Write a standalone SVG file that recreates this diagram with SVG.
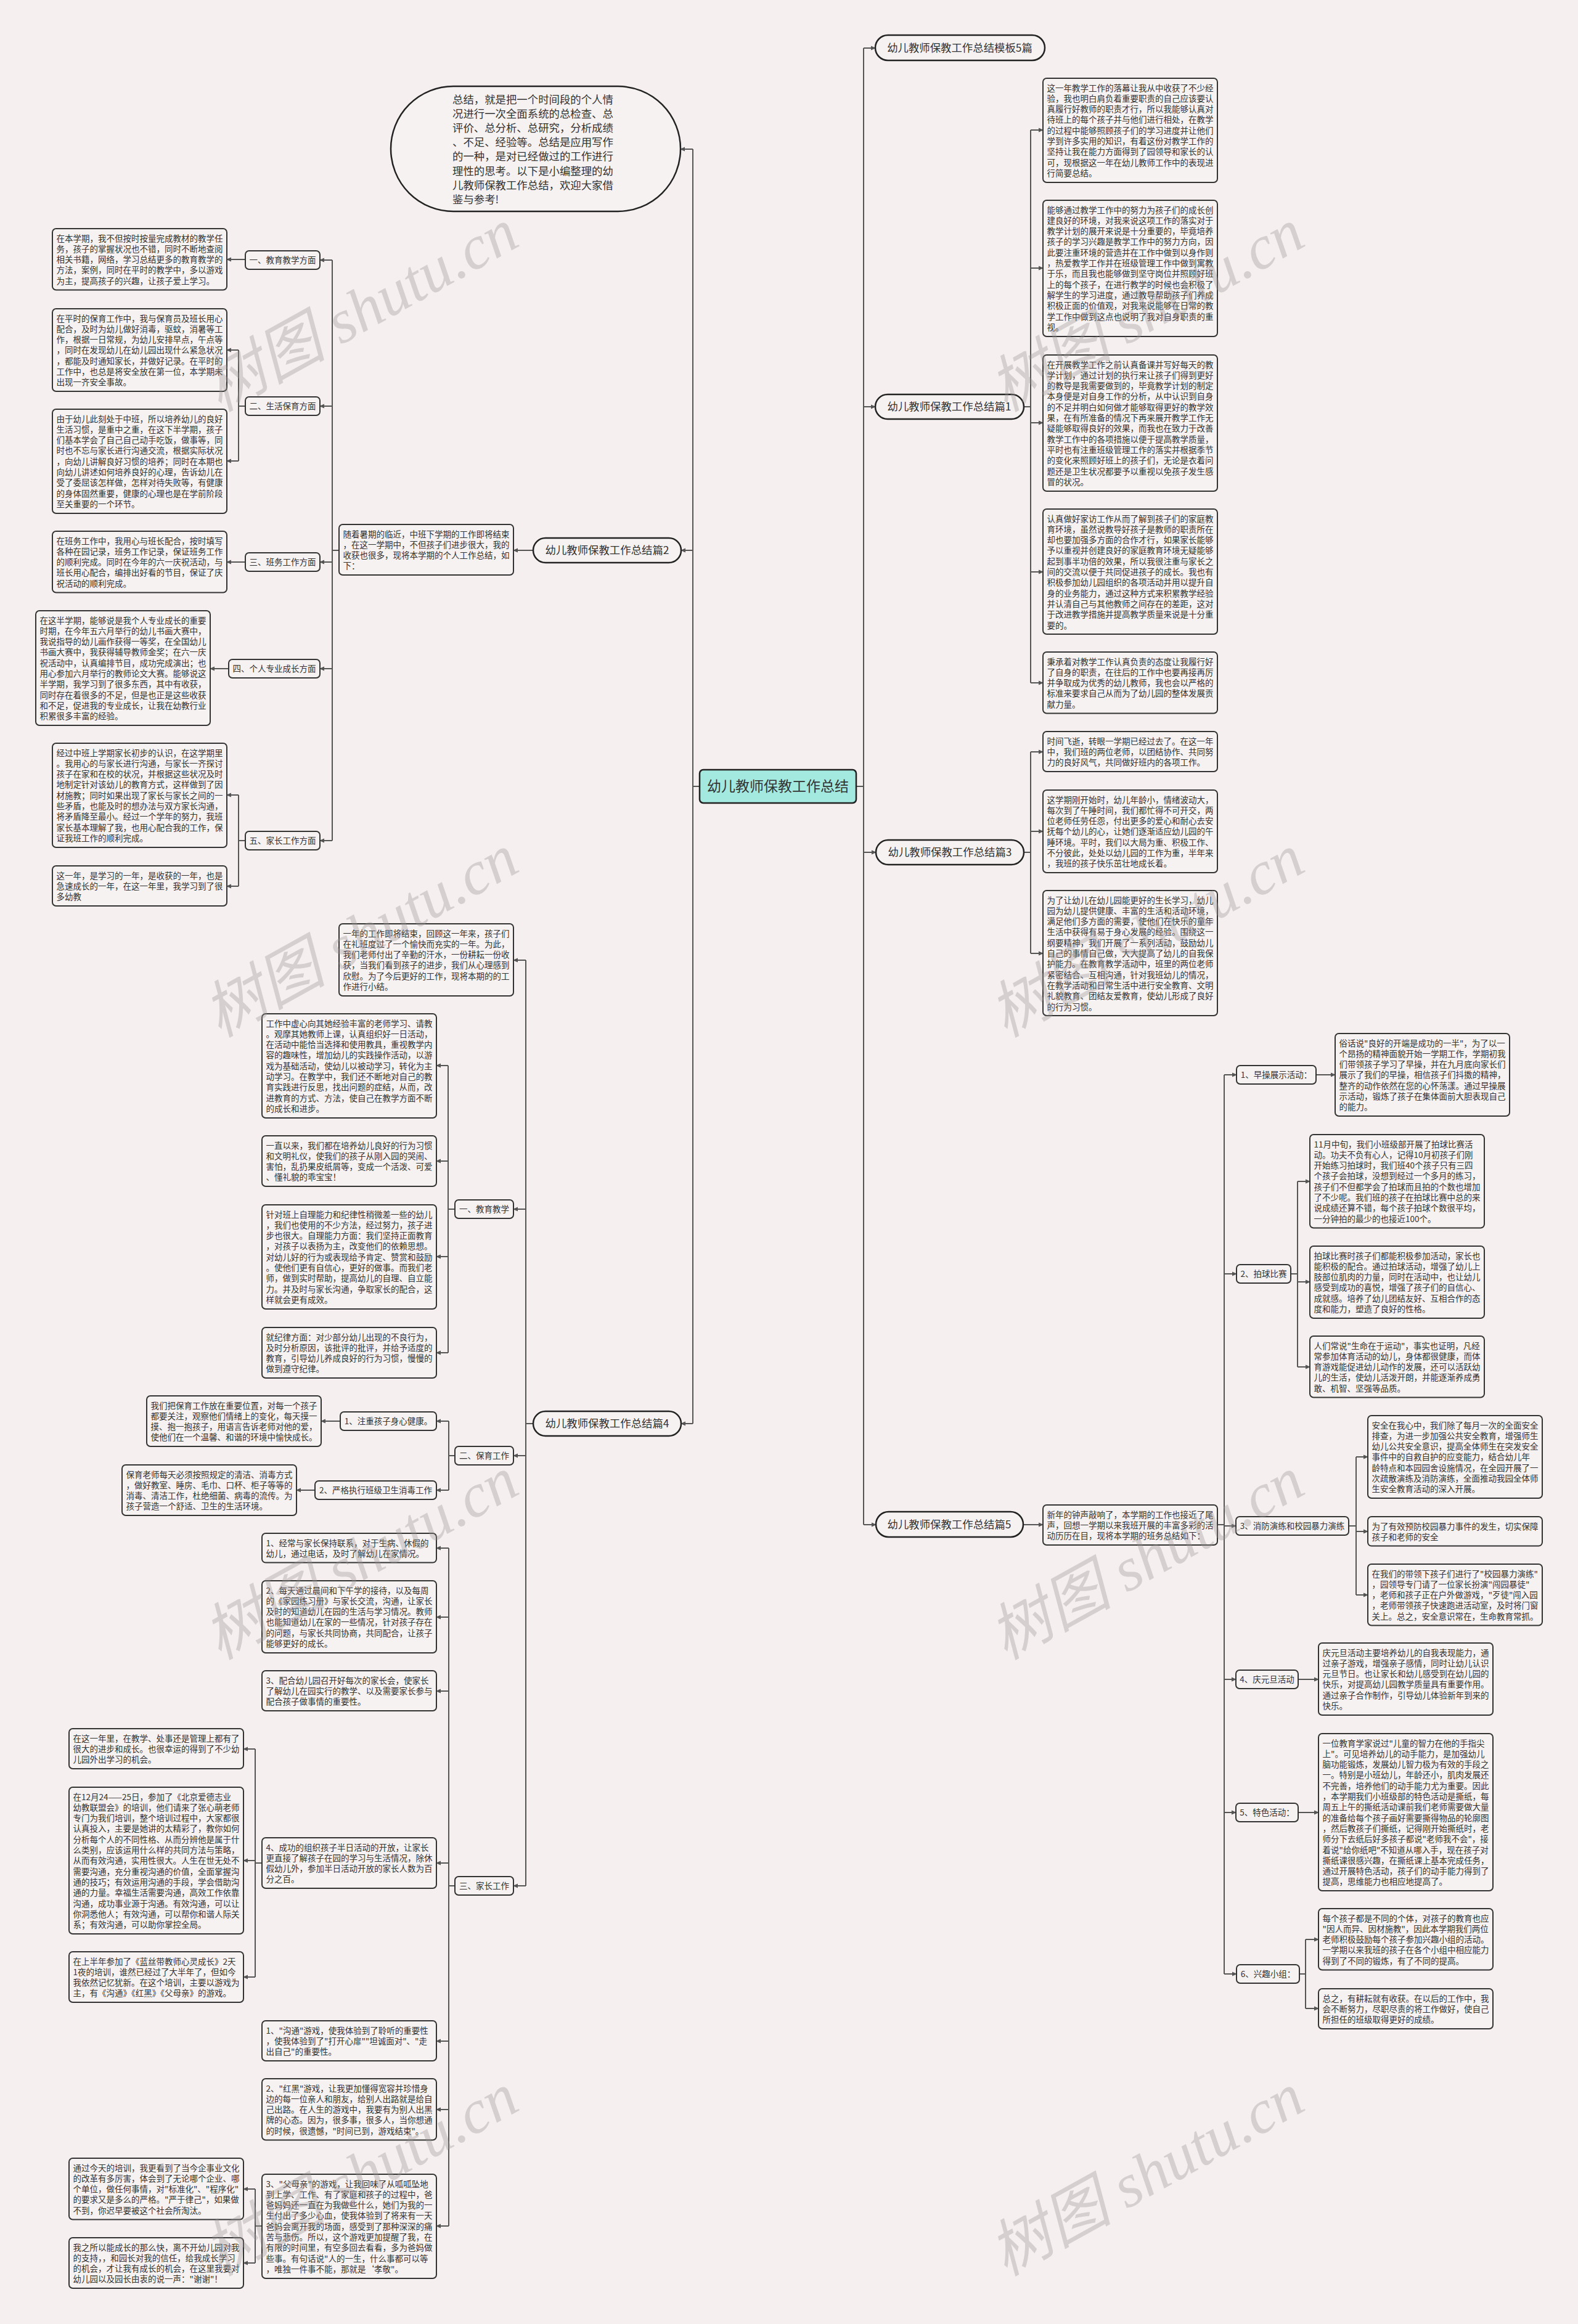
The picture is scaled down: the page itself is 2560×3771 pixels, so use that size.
<svg xmlns="http://www.w3.org/2000/svg" width="2560" height="3771" viewBox="0 0 2560 3771">
<defs>
<style>
.bg{fill:#f5efef}
.bx{fill:#f7f2f2;stroke:#333;stroke-width:2}
.nd{fill:#f7f2f2;stroke:#333;stroke-width:2}
.pn{fill:#f7f2f2;stroke:#222;stroke-width:2.5}
.t{font-family:"Noto Sans CJK SC","Noto Sans",sans-serif;font-size:13.5px;fill:#333}
.l{font-family:"Noto Sans CJK SC","Noto Sans",sans-serif;font-size:13.5px;fill:#333;text-anchor:middle}
.pt{font-family:"Noto Sans CJK SC","Noto Sans",sans-serif;font-size:17.4px;fill:#333;text-anchor:middle}
.cn{fill:none;stroke:#555;stroke-width:2}
.ar{fill:none;stroke:#555;stroke-width:2;marker-end:url(#ah)}
.wm{font-family:"Liberation Serif","Noto Sans CJK SC",serif;font-size:100px;fill:#9a9494;opacity:0.35;font-style:italic}
</style>
<marker id="ah" markerWidth="8" markerHeight="8" refX="7" refY="4" orient="auto" markerUnits="userSpaceOnUse"><path d="M0,0.5 L8,4 L0,7.5 z" fill="#555"/></marker>
</defs>
<rect class="bg" x="0" y="0" width="2560" height="3771"/>

<g id="connectors">
<path class="cn" d="M1389,1276 H1401 M1401,78 V2474"/>
<path class="ar" d="M1401,78 H1420"/>
<path class="ar" d="M1401,660 H1420"/>
<path class="ar" d="M1401,1383 H1421"/>
<path class="ar" d="M1401,2474 H1421"/>
<path class="cn" d="M1135,1276 H1124 M1124,242 V2310"/>
<path class="ar" d="M1124,242 H1104"/>
<path class="ar" d="M1124,893 H1105"/>
<path class="ar" d="M1124,2310 H1105"/>
<path class="cn" d="M1661,660 H1672 M1672,211 V1108"/>
<path class="ar" d="M1672,211 H1692"/>
<path class="ar" d="M1672,435 H1692"/>
<path class="ar" d="M1672,686 H1692"/>
<path class="ar" d="M1672,928 H1692"/>
<path class="ar" d="M1672,1108 H1692"/>
<path class="cn" d="M1661,1383 H1672 M1672,1220 V1547"/>
<path class="ar" d="M1672,1220 H1692"/>
<path class="ar" d="M1672,1349 H1692"/>
<path class="ar" d="M1672,1547 H1692"/>
<path class="ar" d="M1660,2474 H1692"/>
<path class="cn" d="M1975,2474 H1986 M1986,1744 V3203"/>
<path class="ar" d="M1986,1744 H2006"/>
<path class="ar" d="M1986,2067 H2006"/>
<path class="ar" d="M1986,2476 H2005"/>
<path class="ar" d="M1986,2725 H2005"/>
<path class="ar" d="M1986,2941 H2005"/>
<path class="ar" d="M1986,3203 H2006"/>
<path class="ar" d="M2135,1744 H2166"/>
<path class="cn" d="M2094,2067 H2105 M2105,1917 V2218"/>
<path class="ar" d="M2105,1917 H2125"/>
<path class="ar" d="M2105,2080 H2125"/>
<path class="ar" d="M2105,2218 H2125"/>
<path class="cn" d="M2188,2476 H2200 M2200,2364 V2588"/>
<path class="ar" d="M2200,2364 H2219"/>
<path class="ar" d="M2200,2485 H2219"/>
<path class="ar" d="M2200,2588 H2219"/>
<path class="ar" d="M2106,2725 H2139"/>
<path class="ar" d="M2106,2941 H2139"/>
<path class="cn" d="M2108,3203 H2118 M2118,3147 V3259"/>
<path class="ar" d="M2118,3147 H2139"/>
<path class="ar" d="M2118,3259 H2139"/>
<path class="ar" d="M865,893 H833"/>
<path class="cn" d="M550,893 H539 M539,422 V1364"/>
<path class="ar" d="M539,422 H519"/>
<path class="ar" d="M539,659 H519"/>
<path class="ar" d="M539,912 H519"/>
<path class="ar" d="M539,1085 H519"/>
<path class="ar" d="M539,1364 H519"/>
<path class="ar" d="M398,421 H368"/>
<path class="cn" d="M398,659 H387 M387,568 V748"/>
<path class="ar" d="M387,568 H368"/>
<path class="ar" d="M387,748 H368"/>
<path class="ar" d="M398,912 H368"/>
<path class="ar" d="M371,1085 H341"/>
<path class="cn" d="M398,1364 H387 M387,1290 V1438"/>
<path class="ar" d="M387,1290 H368"/>
<path class="ar" d="M387,1438 H368"/>
<path class="cn" d="M865,2310 H853 M853,1558 V3060"/>
<path class="ar" d="M853,1558 H833"/>
<path class="ar" d="M853,1962 H833"/>
<path class="ar" d="M853,2362 H833"/>
<path class="ar" d="M853,3060 H833"/>
<path class="cn" d="M738,1962 H727 M727,1729 V2195"/>
<path class="ar" d="M727,1729 H708"/>
<path class="ar" d="M727,1884 H708"/>
<path class="ar" d="M727,2039 H708"/>
<path class="ar" d="M727,2195 H708"/>
<path class="cn" d="M738,2362 H728 M728,2306 V2418"/>
<path class="ar" d="M728,2306 H708"/>
<path class="ar" d="M728,2418 H708"/>
<path class="ar" d="M552,2306 H521"/>
<path class="ar" d="M511,2418 H481"/>
<path class="cn" d="M738,3060 H728 M728,2512 V3612"/>
<path class="ar" d="M728,2512 H708"/>
<path class="ar" d="M728,2624 H708"/>
<path class="ar" d="M728,2744 H708"/>
<path class="ar" d="M728,3023 H708"/>
<path class="ar" d="M728,3312 H708"/>
<path class="ar" d="M728,3423 H708"/>
<path class="ar" d="M728,3612 H708"/>
<path class="cn" d="M425,3023 H414 M414,2838 V3208"/>
<path class="ar" d="M414,2838 H395"/>
<path class="ar" d="M414,3019 H395"/>
<path class="ar" d="M414,3208 H395"/>
<path class="cn" d="M425,3612 H414 M414,3552 V3672"/>
<path class="ar" d="M414,3552 H395"/>
<path class="ar" d="M414,3672 H395"/>
</g>

<g id="root"><rect x="1135" y="1249" width="254" height="54" rx="6" fill="#a3e9df" stroke="#222" stroke-width="2.5"/><text x="1262" y="1284" style="font-family:'Noto Sans CJK SC',sans-serif;font-size:23px;fill:#333;text-anchor:middle">幼儿教师保教工作总结</text></g>

<g id="title"><rect class="pn" x="1420" y="57" width="275" height="41" rx="20.5"/><text class="pt" x="1557" y="84">幼儿教师保教工作总结模板5篇</text></g>

<g id="summary"><rect class="pn" x="634" y="140" width="470" height="203" rx="101.5"/>
<text style="font-family:'Noto Sans CJK SC',sans-serif;font-size:17.4px;fill:#333" x="734" y="168"><tspan x="734" dy="0">总结，就是把一个时间段的个人情</tspan><tspan x="734" dy="23.1">况进行一次全面系统的总检查、总</tspan><tspan x="734" dy="23.1">评价、总分析、总研究，分析成绩</tspan><tspan x="734" dy="23.1">、不足、经验等。总结是应用写作</tspan><tspan x="734" dy="23.1">的一种，是对已经做过的工作进行</tspan><tspan x="734" dy="23.1">理性的思考。以下是小编整理的幼</tspan><tspan x="734" dy="23.1">儿教师保教工作总结，欢迎大家借</tspan><tspan x="734" dy="23.1">鉴与参考!</tspan></text></g>

<g id="p1"><rect class="pn" x="1420" y="640" width="241" height="40" rx="20"/><text class="pt" x="1540" y="666">幼儿教师保教工作总结篇1</text></g>
<g id="p1b1"><rect class="bx" x="1692" y="127" width="283" height="169" rx="6"/><text class="t" x="1698.5" y="147.5"><tspan x="1698.5" dy="0">这一年教学工作的落幕让我从中收获了不少经</tspan><tspan x="1698.5" dy="17.3">验，我也明白肩负着重要职责的自己应该要认</tspan><tspan x="1698.5" dy="17.3">真履行好教师的职责才行，所以我能够认真对</tspan><tspan x="1698.5" dy="17.3">待班上的每个孩子并与他们进行相处，在教学</tspan><tspan x="1698.5" dy="17.3">的过程中能够照顾孩子们的学习进度并让他们</tspan><tspan x="1698.5" dy="17.3">学到许多实用的知识，有着这份对教学工作的</tspan><tspan x="1698.5" dy="17.3">坚持让我在能力方面得到了园领导和家长的认</tspan><tspan x="1698.5" dy="17.3">可，现根据这一年在幼儿教师工作中的表现进</tspan><tspan x="1698.5" dy="17.3">行简要总结。</tspan></text></g>
<g id="p1b2"><rect class="bx" x="1692" y="325" width="283" height="221" rx="6"/><text class="t" x="1698.5" y="345.5"><tspan x="1698.5" dy="0">能够通过教学工作中的努力为孩子们的成长创</tspan><tspan x="1698.5" dy="17.3">建良好的环境，对我来说这项工作的落实对于</tspan><tspan x="1698.5" dy="17.3">教学计划的展开来说是十分重要的，毕竟培养</tspan><tspan x="1698.5" dy="17.3">孩子的学习兴趣是教学工作中的努力方向，因</tspan><tspan x="1698.5" dy="17.3">此要注重环境的营造并在工作中做到以身作则</tspan><tspan x="1698.5" dy="17.3">，热爱教学工作并在班级管理工作中做到寓教</tspan><tspan x="1698.5" dy="17.3">于乐，而且我也能够做到坚守岗位并照顾好班</tspan><tspan x="1698.5" dy="17.3">上的每个孩子，在进行教学的时候也会积极了</tspan><tspan x="1698.5" dy="17.3">解学生的学习进度，通过教导帮助孩子们养成</tspan><tspan x="1698.5" dy="17.3">积极正面的价值观，对我来说能够在日常的教</tspan><tspan x="1698.5" dy="17.3">学工作中做到这点也说明了我对自身职责的重</tspan><tspan x="1698.5" dy="17.3">视。</tspan></text></g>
<g id="p1b3"><rect class="bx" x="1692" y="576" width="283" height="221" rx="6"/><text class="t" x="1698.5" y="596.5"><tspan x="1698.5" dy="0">在开展教学工作之前认真备课并写好每天的教</tspan><tspan x="1698.5" dy="17.3">学计划，通过计划的执行来让孩子们得到更好</tspan><tspan x="1698.5" dy="17.3">的教导是我需要做到的，毕竟教学计划的制定</tspan><tspan x="1698.5" dy="17.3">本身便是对自身工作的分析，从中认识到自身</tspan><tspan x="1698.5" dy="17.3">的不足并明白如何做才能够取得更好的教学效</tspan><tspan x="1698.5" dy="17.3">果，在有所准备的情况下再来展开教学工作无</tspan><tspan x="1698.5" dy="17.3">疑能够取得良好的效果，而我也在致力于改善</tspan><tspan x="1698.5" dy="17.3">教学工作中的各项措施以便于提高教学质量，</tspan><tspan x="1698.5" dy="17.3">平时也有注重班级管理工作的落实并根据季节</tspan><tspan x="1698.5" dy="17.3">的变化来照顾好班上的孩子们，无论是衣着问</tspan><tspan x="1698.5" dy="17.3">题还是卫生状况都要予以重视以免孩子发生感</tspan><tspan x="1698.5" dy="17.3">冒的状况。</tspan></text></g>
<g id="p1b4"><rect class="bx" x="1692" y="826" width="283" height="203" rx="6"/><text class="t" x="1698.5" y="846.5"><tspan x="1698.5" dy="0">认真做好家访工作从而了解到孩子们的家庭教</tspan><tspan x="1698.5" dy="17.3">育环境，虽然说教导好孩子是教师的职责所在</tspan><tspan x="1698.5" dy="17.3">却也要加强多方面的合作才行，如果家长能够</tspan><tspan x="1698.5" dy="17.3">予以重视并创建良好的家庭教育环境无疑能够</tspan><tspan x="1698.5" dy="17.3">起到事半功倍的效果，所以我很注重与家长之</tspan><tspan x="1698.5" dy="17.3">间的交流以便于共同促进孩子的成长。我也有</tspan><tspan x="1698.5" dy="17.3">积极参加幼儿园组织的各项活动并用以提升自</tspan><tspan x="1698.5" dy="17.3">身的业务能力，通过这种方式来积累教学经验</tspan><tspan x="1698.5" dy="17.3">并认清自己与其他教师之间存在的差距，这对</tspan><tspan x="1698.5" dy="17.3">于改进教学措施并提高教学质量来说是十分重</tspan><tspan x="1698.5" dy="17.3">要的。</tspan></text></g>
<g id="p1b5"><rect class="bx" x="1692" y="1058" width="283" height="99.5" rx="6"/><text class="t" x="1698.5" y="1078.5"><tspan x="1698.5" dy="0">秉承着对教学工作认真负责的态度让我履行好</tspan><tspan x="1698.5" dy="17.3">了自身的职责，在往后的工作中也要再接再厉</tspan><tspan x="1698.5" dy="17.3">并争取成为优秀的幼儿教师，我也会以严格的</tspan><tspan x="1698.5" dy="17.3">标准来要求自己从而为了幼儿园的整体发展贡</tspan><tspan x="1698.5" dy="17.3">献力量。</tspan></text></g>

<g id="p3"><rect class="pn" x="1421" y="1363" width="240" height="40" rx="20"/><text class="pt" x="1541" y="1389">幼儿教师保教工作总结篇3</text></g>
<g id="p3b1"><rect class="bx" x="1692" y="1187" width="283" height="65" rx="6"/><text class="t" x="1698.5" y="1207.5"><tspan x="1698.5" dy="0">时间飞逝，转眼一学期已经过去了。在这一年</tspan><tspan x="1698.5" dy="17.3">中，我们班的两位老师，以团结协作、共同努</tspan><tspan x="1698.5" dy="17.3">力的良好风气，共同做好班内的各项工作。</tspan></text></g>
<g id="p3b2"><rect class="bx" x="1692" y="1282" width="283" height="134" rx="6"/><text class="t" x="1698.5" y="1302.5"><tspan x="1698.5" dy="0">这学期刚开始时，幼儿年龄小，情绪波动大，</tspan><tspan x="1698.5" dy="17.3">每次到了午睡时间，我们都忙得不可开交，两</tspan><tspan x="1698.5" dy="17.3">位老师任劳任怨，付出更多的爱心和耐心去安</tspan><tspan x="1698.5" dy="17.3">抚每个幼儿的心，让她们逐渐适应幼儿园的午</tspan><tspan x="1698.5" dy="17.3">睡环境。平时，我们以大局为重、积极工作、</tspan><tspan x="1698.5" dy="17.3">不分彼此，处处以幼儿园的工作为重，半年来</tspan><tspan x="1698.5" dy="17.3">，我班的孩子快乐茁壮地成长着。</tspan></text></g>
<g id="p3b3"><rect class="bx" x="1692" y="1445" width="283" height="203" rx="6"/><text class="t" x="1698.5" y="1465.5"><tspan x="1698.5" dy="0">为了让幼儿在幼儿园能更好的生长学习，幼儿</tspan><tspan x="1698.5" dy="17.3">园为幼儿提供健康、丰富的生活和活动环境，</tspan><tspan x="1698.5" dy="17.3">满足他们多方面的需要，使他们在快乐的童年</tspan><tspan x="1698.5" dy="17.3">生活中获得有易于身心发展的经验。围绕这一</tspan><tspan x="1698.5" dy="17.3">纲要精神，我们开展了一系列活动，鼓励幼儿</tspan><tspan x="1698.5" dy="17.3">自己的事情自己做，大大提高了幼儿的自我保</tspan><tspan x="1698.5" dy="17.3">护能力。在教育教学活动中，班里的两位老师</tspan><tspan x="1698.5" dy="17.3">紧密结合、互相沟通，针对我班幼儿的情况，</tspan><tspan x="1698.5" dy="17.3">在教学活动和日常生活中进行安全教育、文明</tspan><tspan x="1698.5" dy="17.3">礼貌教育、团结友爱教育，使幼儿形成了良好</tspan><tspan x="1698.5" dy="17.3">的行为习惯。</tspan></text></g>

<g id="p5"><rect class="pn" x="1421" y="2453" width="239" height="41" rx="20.5"/><text class="pt" x="1540" y="2480">幼儿教师保教工作总结篇5</text></g>
<g id="p5intro"><rect class="bx" x="1692" y="2442" width="283" height="65" rx="6"/><text class="t" x="1698.5" y="2462.5"><tspan x="1698.5" dy="0">新年的钟声敲响了，本学期的工作也接近了尾</tspan><tspan x="1698.5" dy="17.3">声，回想一学期以来我班开展的丰富多彩的活</tspan><tspan x="1698.5" dy="17.3">动历历在目，现将本学期的班务总结如下：</tspan></text></g>
<g id="p5n1"><rect class="nd" x="2006" y="1729" width="129" height="30" rx="6"/><text class="l" x="2070.5" y="1749">1、早操展示活动：</text></g>
<g id="p5n1b"><rect class="bx" x="2166" y="1677" width="283" height="134" rx="6"/><text class="t" x="2172.5" y="1697.5"><tspan x="2172.5" dy="0">俗话说"良好的开端是成功的一半"，为了以一</tspan><tspan x="2172.5" dy="17.3">个昂扬的精神面貌开始一学期工作，学期初我</tspan><tspan x="2172.5" dy="17.3">们带领孩子学习了早操，并在九月底向家长们</tspan><tspan x="2172.5" dy="17.3">展示了我们的早操，相信孩子们抖擞的精神，</tspan><tspan x="2172.5" dy="17.3">整齐的动作依然在您的心怀荡漾。通过早操展</tspan><tspan x="2172.5" dy="17.3">示活动，锻炼了孩子在集体面前大胆表现自己</tspan><tspan x="2172.5" dy="17.3">的能力。</tspan></text></g>
<g id="p5n2"><rect class="nd" x="2006" y="2052" width="88" height="30" rx="6"/><text class="l" x="2050" y="2072">2、拍球比赛</text></g>
<g id="p5n2b1"><rect class="bx" x="2125" y="1841" width="283" height="151.5" rx="6"/><text class="t" x="2131.5" y="1861.5"><tspan x="2131.5" dy="0">11月中旬，我们小班级部开展了拍球比赛活</tspan><tspan x="2131.5" dy="17.3">动。功夫不负有心人，记得10月初孩子们刚</tspan><tspan x="2131.5" dy="17.3">开始练习拍球时，我们班40个孩子只有三四</tspan><tspan x="2131.5" dy="17.3">个孩子会拍球，没想到经过一个多月的练习，</tspan><tspan x="2131.5" dy="17.3">孩子们不但都学会了拍球而且拍的个数也增加</tspan><tspan x="2131.5" dy="17.3">了不少呢。我们班的孩子在拍球比赛中总的来</tspan><tspan x="2131.5" dy="17.3">说成绩还算不错，每个孩子拍球个数很平均，</tspan><tspan x="2131.5" dy="17.3">一分钟拍的最少的也接近100个。</tspan></text></g>
<g id="p5n2b2"><rect class="bx" x="2125" y="2022" width="283" height="117" rx="6"/><text class="t" x="2131.5" y="2042.5"><tspan x="2131.5" dy="0">拍球比赛时孩子们都能积极参加活动，家长也</tspan><tspan x="2131.5" dy="17.3">能积极的配合。通过拍球活动，增强了幼儿上</tspan><tspan x="2131.5" dy="17.3">肢部位肌肉的力量，同时在活动中，也让幼儿</tspan><tspan x="2131.5" dy="17.3">感受到成功的喜悦，增强了孩子们的自信心、</tspan><tspan x="2131.5" dy="17.3">成就感。培养了幼儿团结友好、互相合作的态</tspan><tspan x="2131.5" dy="17.3">度和能力，塑造了良好的性格。</tspan></text></g>
<g id="p5n2b3"><rect class="bx" x="2125" y="2168" width="283" height="99.5" rx="6"/><text class="t" x="2131.5" y="2188.5"><tspan x="2131.5" dy="0">人们常说"生命在于运动"，事实也证明，凡经</tspan><tspan x="2131.5" dy="17.3">常参加体育活动的幼儿，身体都很健康，而体</tspan><tspan x="2131.5" dy="17.3">育游戏能促进幼儿动作的发展，还可以活跃幼</tspan><tspan x="2131.5" dy="17.3">儿的生活，使幼儿活泼开朗，并能逐渐养成勇</tspan><tspan x="2131.5" dy="17.3">敢、机智、坚强等品质。</tspan></text></g>
<g id="p5n3"><rect class="nd" x="2005" y="2461" width="183" height="30" rx="6"/><text class="l" x="2096.5" y="2481">3、消防演练和校园暴力演练</text></g>
<g id="p5n3b1"><rect class="bx" x="2219" y="2297" width="283" height="134" rx="6"/><text class="t" x="2225.5" y="2317.5"><tspan x="2225.5" dy="0">安全在我心中，我们除了每月一次的全面安全</tspan><tspan x="2225.5" dy="17.3">排查，为进一步加强公共安全教育，增强师生</tspan><tspan x="2225.5" dy="17.3">幼儿公共安全意识，提高全体师生在突发安全</tspan><tspan x="2225.5" dy="17.3">事件中的自救自护的应变能力，结合幼儿年</tspan><tspan x="2225.5" dy="17.3">龄特点和本园园舍设施情况，在全园开展了一</tspan><tspan x="2225.5" dy="17.3">次疏散演练及消防演练，全面推动我园全体师</tspan><tspan x="2225.5" dy="17.3">生安全教育活动的深入开展。</tspan></text></g>
<g id="p5n3b2"><rect class="bx" x="2219" y="2461" width="283" height="47.6" rx="6"/><text class="t" x="2225.5" y="2481.5"><tspan x="2225.5" dy="0">为了有效预防校园暴力事件的发生，切实保障</tspan><tspan x="2225.5" dy="17.3">孩子和老师的安全</tspan></text></g>
<g id="p5n3b3"><rect class="bx" x="2219" y="2538" width="283" height="99.5" rx="6"/><text class="t" x="2225.5" y="2558.5"><tspan x="2225.5" dy="0">在我们的带领下孩子们进行了"校园暴力演练"</tspan><tspan x="2225.5" dy="17.3">，园领导专门请了一位家长扮演"闯园暴徒"</tspan><tspan x="2225.5" dy="17.3">，老师和孩子正在户外做游戏，"歹徒"闯入园</tspan><tspan x="2225.5" dy="17.3">，老师带领孩子快速跑进活动室，及时将门窗</tspan><tspan x="2225.5" dy="17.3">关上。总之，安全意识常在，生命教育常抓。</tspan></text></g>
<g id="p5n4"><rect class="nd" x="2005" y="2710" width="101" height="30" rx="6"/><text class="l" x="2055.5" y="2730">4、庆元旦活动</text></g>
<g id="p5n4b"><rect class="bx" x="2139" y="2666" width="283" height="117" rx="6"/><text class="t" x="2145.5" y="2686.5"><tspan x="2145.5" dy="0">庆元旦活动主要培养幼儿的自我表现能力，通</tspan><tspan x="2145.5" dy="17.3">过亲子游戏，增强亲子感情，同时让幼儿认识</tspan><tspan x="2145.5" dy="17.3">元旦节日。也让家长和幼儿感受到在幼儿园的</tspan><tspan x="2145.5" dy="17.3">快乐，对提高幼儿园教学质量具有重要作用。</tspan><tspan x="2145.5" dy="17.3">通过亲子合作制作，引导幼儿体验新年到来的</tspan><tspan x="2145.5" dy="17.3">快乐。</tspan></text></g>
<g id="p5n5"><rect class="nd" x="2005" y="2926" width="101" height="30" rx="6"/><text class="l" x="2055.5" y="2946">5、特色活动：</text></g>
<g id="p5n5b"><rect class="bx" x="2139" y="2813" width="283" height="255" rx="6"/><text class="t" x="2145.5" y="2833.5"><tspan x="2145.5" dy="0">一位教育学家说过"儿童的智力在他的手指尖</tspan><tspan x="2145.5" dy="17.3">上"。可见培养幼儿的动手能力，是加强幼儿</tspan><tspan x="2145.5" dy="17.3">脑功能锻炼，发展幼儿智力极为有效的手段之</tspan><tspan x="2145.5" dy="17.3">一。特别是小班幼儿，年龄还小，肌肉发展还</tspan><tspan x="2145.5" dy="17.3">不完善，培养他们的动手能力尤为重要。因此</tspan><tspan x="2145.5" dy="17.3">，本学期我们小班级部的特色活动是撕纸，每</tspan><tspan x="2145.5" dy="17.3">周五上午的撕纸活动课前我们老师需要做大量</tspan><tspan x="2145.5" dy="17.3">的准备给每个孩子画好需要撕得物品的轮廓图</tspan><tspan x="2145.5" dy="17.3">，然后教孩子们撕纸，记得刚开始撕纸时，老</tspan><tspan x="2145.5" dy="17.3">师分下去纸后好多孩子都说"老师我不会"，接</tspan><tspan x="2145.5" dy="17.3">着说"给你纸吧"不知道从哪入手，现在孩子对</tspan><tspan x="2145.5" dy="17.3">撕纸课很感兴趣，在撕纸课上基本完成任务，</tspan><tspan x="2145.5" dy="17.3">通过开展特色活动，孩子们的动手能力得到了</tspan><tspan x="2145.5" dy="17.3">提高，思维能力也相应地提高了。</tspan></text></g>
<g id="p5n6"><rect class="nd" x="2006" y="3188" width="102" height="30" rx="6"/><text class="l" x="2057" y="3208">6、兴趣小组：</text></g>
<g id="p5n6b1"><rect class="bx" x="2139" y="3097" width="283" height="99.5" rx="6"/><text class="t" x="2145.5" y="3117.5"><tspan x="2145.5" dy="0">每个孩子都是不同的个体，对孩子的教育也应</tspan><tspan x="2145.5" dy="17.3">"因人而异、因材施教"，因此本学期我们两位</tspan><tspan x="2145.5" dy="17.3">老师积极鼓励每个孩子参加兴趣小组的活动。</tspan><tspan x="2145.5" dy="17.3">一学期以来我班的孩子在各个小组中相应能力</tspan><tspan x="2145.5" dy="17.3">得到了不同的锻炼，有了不同的提高。</tspan></text></g>
<g id="p5n6b2"><rect class="bx" x="2139" y="3227" width="283" height="65" rx="6"/><text class="t" x="2145.5" y="3247.5"><tspan x="2145.5" dy="0">总之，有耕耘就有收获。在以后的工作中，我</tspan><tspan x="2145.5" dy="17.3">会不断努力，尽职尽责的将工作做好，使自己</tspan><tspan x="2145.5" dy="17.3">所担任的班级取得更好的成绩。</tspan></text></g>

<g id="p2"><rect class="pn" x="865" y="873" width="240" height="40" rx="20"/><text class="pt" x="985" y="899">幼儿教师保教工作总结篇2</text></g>
<g id="p2intro"><rect class="bx" x="550" y="851" width="283" height="82" rx="6"/><text class="t" x="556.5" y="871.5"><tspan x="556.5" dy="0">随着暑期的临近，中班下学期的工作即将结束</tspan><tspan x="556.5" dy="17.3">，在这一学期中，不但孩子们进步很大，我的</tspan><tspan x="556.5" dy="17.3">收获也很多，现将本学期的个人工作总结，如</tspan><tspan x="556.5" dy="17.3">下：</tspan></text></g>
<g id="p2n1"><rect class="nd" x="398" y="407" width="121" height="30" rx="6"/><text class="l" x="458.5" y="427">一、教育教学方面</text></g>
<g id="p2n1b"><rect class="bx" x="85" y="371" width="283" height="99.5" rx="6"/><text class="t" x="91.5" y="391.5"><tspan x="91.5" dy="0">在本学期，我不但按时按量完成教材的教学任</tspan><tspan x="91.5" dy="17.3">务，孩子的掌握状况也不错，同时不断地查阅</tspan><tspan x="91.5" dy="17.3">相关书籍，网络，学习总结更多的教育教学的</tspan><tspan x="91.5" dy="17.3">方法，案例，同时在平时的教学中，多以游戏</tspan><tspan x="91.5" dy="17.3">为主，提高孩子的兴趣，让孩子爱上学习。</tspan></text></g>
<g id="p2n2"><rect class="nd" x="398" y="644" width="121" height="30" rx="6"/><text class="l" x="458.5" y="664">二、生活保育方面</text></g>
<g id="p2n2b1"><rect class="bx" x="85" y="501" width="283" height="134" rx="6"/><text class="t" x="91.5" y="521.5"><tspan x="91.5" dy="0">在平时的保育工作中，我与保育员及班长用心</tspan><tspan x="91.5" dy="17.3">配合，及时为幼儿做好消毒，驱蚊，消暑等工</tspan><tspan x="91.5" dy="17.3">作，根据一日常规，为幼儿安排早点，午点等</tspan><tspan x="91.5" dy="17.3">，同时在发现幼儿在幼儿园出现什么紧急状况</tspan><tspan x="91.5" dy="17.3">，都能及时通知家长，并做好记录。在平时的</tspan><tspan x="91.5" dy="17.3">工作中，也总是将安全放在第一位，本学期未</tspan><tspan x="91.5" dy="17.3">出现一齐安全事故。</tspan></text></g>
<g id="p2n2b2"><rect class="bx" x="85" y="664" width="283" height="169" rx="6"/><text class="t" x="91.5" y="684.5"><tspan x="91.5" dy="0">由于幼儿此刻处于中班，所以培养幼儿的良好</tspan><tspan x="91.5" dy="17.3">生活习惯，是重中之重，在这下半学期，孩子</tspan><tspan x="91.5" dy="17.3">们基本学会了自己自己动手吃饭，做事等，同</tspan><tspan x="91.5" dy="17.3">时也不忘与家长进行沟通交流，根据实际状况</tspan><tspan x="91.5" dy="17.3">，向幼儿讲解良好习惯的培养；同时在本期也</tspan><tspan x="91.5" dy="17.3">向幼儿讲述如何培养良好的心理，告诉幼儿在</tspan><tspan x="91.5" dy="17.3">受了委屈该怎样做，怎样对待失败等，有健康</tspan><tspan x="91.5" dy="17.3">的身体固然重要，健康的心理也是在学前阶段</tspan><tspan x="91.5" dy="17.3">至关重要的一个环节。</tspan></text></g>
<g id="p2n3"><rect class="nd" x="398" y="897" width="121" height="30" rx="6"/><text class="l" x="458.5" y="917">三、班务工作方面</text></g>
<g id="p2n3b"><rect class="bx" x="85" y="862" width="283" height="99.5" rx="6"/><text class="t" x="91.5" y="882.5"><tspan x="91.5" dy="0">在班务工作中，我用心与班长配合，按时填写</tspan><tspan x="91.5" dy="17.3">各种在园记录，班务工作记录，保证班务工作</tspan><tspan x="91.5" dy="17.3">的顺利完成。同时在今年的六一庆祝活动，与</tspan><tspan x="91.5" dy="17.3">班长用心配合，编排出好看的节目，保证了庆</tspan><tspan x="91.5" dy="17.3">祝活动的顺利完成。</tspan></text></g>
<g id="p2n4"><rect class="nd" x="371" y="1070" width="148" height="30" rx="6"/><text class="l" x="445" y="1090">四、个人专业成长方面</text></g>
<g id="p2n4b"><rect class="bx" x="58" y="991" width="283" height="186" rx="6"/><text class="t" x="64.5" y="1011.5"><tspan x="64.5" dy="0">在这半学期，能够说是我个人专业成长的重要</tspan><tspan x="64.5" dy="17.3">时期，在今年五六月举行的幼儿书画大赛中，</tspan><tspan x="64.5" dy="17.3">我说指导的幼儿画作获得一等奖，在全国幼儿</tspan><tspan x="64.5" dy="17.3">书画大赛中，我获得辅导教师金奖；在六一庆</tspan><tspan x="64.5" dy="17.3">祝活动中，认真编排节目，成功完成演出；也</tspan><tspan x="64.5" dy="17.3">用心参加六月举行的教师论文大赛。能够说这</tspan><tspan x="64.5" dy="17.3">半学期，我学习到了很多东西，其中有收获，</tspan><tspan x="64.5" dy="17.3">同时存在着很多的不足，但是也正是这些收获</tspan><tspan x="64.5" dy="17.3">和不足，促进我的专业成长，让我在幼教行业</tspan><tspan x="64.5" dy="17.3">积累很多丰富的经验。</tspan></text></g>
<g id="p2n5"><rect class="nd" x="398" y="1349" width="121" height="30" rx="6"/><text class="l" x="458.5" y="1369">五、家长工作方面</text></g>
<g id="p2n5b1"><rect class="bx" x="85" y="1206" width="283" height="169" rx="6"/><text class="t" x="91.5" y="1226.5"><tspan x="91.5" dy="0">经过中班上学期家长初步的认识，在这学期里</tspan><tspan x="91.5" dy="17.3">。我用心的与家长进行沟通，与家长一齐探讨</tspan><tspan x="91.5" dy="17.3">孩子在家和在校的状况，并根据这些状况及时</tspan><tspan x="91.5" dy="17.3">地制定针对该幼儿的教育方式，这样做到了因</tspan><tspan x="91.5" dy="17.3">材施教；同时如果出现了家长与家长之间的一</tspan><tspan x="91.5" dy="17.3">些矛盾，也能及时的想办法与双方家长沟通，</tspan><tspan x="91.5" dy="17.3">将矛盾降至最小。经过一个学年的努力，我班</tspan><tspan x="91.5" dy="17.3">家长基本理解了我，也用心配合我的工作，保</tspan><tspan x="91.5" dy="17.3">证我班工作的顺利完成。</tspan></text></g>
<g id="p2n5b2"><rect class="bx" x="85" y="1405" width="283" height="65" rx="6"/><text class="t" x="91.5" y="1425.5"><tspan x="91.5" dy="0">这一年，是学习的一年，是收获的一年，也是</tspan><tspan x="91.5" dy="17.3">急速成长的一年，在这一年里，我学习到了很</tspan><tspan x="91.5" dy="17.3">多幼教</tspan></text></g>

<g id="p4"><rect class="pn" x="865" y="2290" width="240" height="40" rx="20"/><text class="pt" x="985" y="2316">幼儿教师保教工作总结篇4</text></g>
<g id="p4intro"><rect class="bx" x="550" y="1499" width="283" height="117" rx="6"/><text class="t" x="556.5" y="1519.5"><tspan x="556.5" dy="0">一年的工作即将结束，回顾这一年来，孩子们</tspan><tspan x="556.5" dy="17.3">在礼班度过了一个愉快而充实的一年。为此，</tspan><tspan x="556.5" dy="17.3">我们老师付出了辛勤的汗水，一份耕耘一份收</tspan><tspan x="556.5" dy="17.3">获，当我们看到孩子的进步，我们从心理感到</tspan><tspan x="556.5" dy="17.3">欣慰。为了今后更好的工作，现将本期的的工</tspan><tspan x="556.5" dy="17.3">作进行小结。</tspan></text></g>
<g id="p4n1"><rect class="nd" x="738" y="1947" width="95" height="30" rx="6"/><text class="l" x="785.5" y="1967">一、教育教学</text></g>
<g id="p4n1b1"><rect class="bx" x="425" y="1645" width="283" height="169" rx="6"/><text class="t" x="431.5" y="1665.5"><tspan x="431.5" dy="0">工作中虚心向其她经验丰富的老师学习、请教</tspan><tspan x="431.5" dy="17.3">。观摩其她教师上课，认真组织好一日活动，</tspan><tspan x="431.5" dy="17.3">在活动中能恰当选择和使用教具，重视教学内</tspan><tspan x="431.5" dy="17.3">容的趣味性，增加幼儿的实践操作活动，以游</tspan><tspan x="431.5" dy="17.3">戏为基础活动，使幼儿以被动学习，转化为主</tspan><tspan x="431.5" dy="17.3">动学习。在教学中，我们还不断地对自己的教</tspan><tspan x="431.5" dy="17.3">育实践进行反思，找出问题的症结，从而，改</tspan><tspan x="431.5" dy="17.3">进教育的方式、方法，使自己在教学方面不断</tspan><tspan x="431.5" dy="17.3">的成长和进步。</tspan></text></g>
<g id="p4n1b2"><rect class="bx" x="425" y="1843" width="283" height="82" rx="6"/><text class="t" x="431.5" y="1863.5"><tspan x="431.5" dy="0">一直以来，我们都在培养幼儿良好的行为习惯</tspan><tspan x="431.5" dy="17.3">和文明礼仪，使我们的孩子从刚入园的哭闹、</tspan><tspan x="431.5" dy="17.3">害怕，乱扔果皮纸屑等，变成一个活泼、可爱</tspan><tspan x="431.5" dy="17.3">、懂礼貌的乖宝宝！</tspan></text></g>
<g id="p4n1b3"><rect class="bx" x="425" y="1955" width="283" height="169" rx="6"/><text class="t" x="431.5" y="1975.5"><tspan x="431.5" dy="0">针对班上自理能力和纪律性稍微差一些的幼儿</tspan><tspan x="431.5" dy="17.3">，我们也使用的不少方法，经过努力，孩子进</tspan><tspan x="431.5" dy="17.3">步也很大。自理能力方面：我们坚持正面教育</tspan><tspan x="431.5" dy="17.3">，对孩子以表扬为主，改变他们的依赖思想。</tspan><tspan x="431.5" dy="17.3">对幼儿好的行为或表现给予肯定、赞赏和鼓励</tspan><tspan x="431.5" dy="17.3">。使他们更有自信心，更好的做事。而我们老</tspan><tspan x="431.5" dy="17.3">师，做到实时帮助，提高幼儿的自理、自立能</tspan><tspan x="431.5" dy="17.3">力。并及时与家长沟通，争取家长的配合，这</tspan><tspan x="431.5" dy="17.3">样就会更有成效。</tspan></text></g>
<g id="p4n1b4"><rect class="bx" x="425" y="2154" width="283" height="82" rx="6"/><text class="t" x="431.5" y="2174.5"><tspan x="431.5" dy="0">就纪律方面：对少部分幼儿出现的不良行为，</tspan><tspan x="431.5" dy="17.3">及时分析原因，该批评的批评，并给予适度的</tspan><tspan x="431.5" dy="17.3">教育，引导幼儿养成良好的行为习惯，慢慢的</tspan><tspan x="431.5" dy="17.3">做到遵守纪律。</tspan></text></g>
<g id="p4n2"><rect class="nd" x="738" y="2347" width="95" height="30" rx="6"/><text class="l" x="785.5" y="2367">二、保育工作</text></g>
<g id="p4n21"><rect class="nd" x="552" y="2291" width="156" height="30" rx="6"/><text class="l" x="630" y="2311">1、注重孩子身心健康。</text></g>
<g id="p4n21b"><rect class="bx" x="238" y="2265" width="283" height="82" rx="6"/><text class="t" x="244.5" y="2285.5"><tspan x="244.5" dy="0">我们把保育工作放在重要位置，对每一个孩子</tspan><tspan x="244.5" dy="17.3">都要关注，观察他们情绪上的变化，每天摸一</tspan><tspan x="244.5" dy="17.3">摸、抱一抱孩子，用语言告诉老师对他的爱，</tspan><tspan x="244.5" dy="17.3">使他们在一个温馨、和谐的环境中愉快成长。</tspan></text></g>
<g id="p4n22"><rect class="nd" x="511" y="2403" width="197" height="30" rx="6"/><text class="l" x="609.5" y="2423">2、严格执行班级卫生消毒工作</text></g>
<g id="p4n22b"><rect class="bx" x="198" y="2377" width="283" height="82" rx="6"/><text class="t" x="204.5" y="2397.5"><tspan x="204.5" dy="0">保育老师每天必须按照规定的清洁、消毒方式</tspan><tspan x="204.5" dy="17.3">，做好教室、睡房、毛巾、口杯、柜子等等的</tspan><tspan x="204.5" dy="17.3">消毒、清洁工作，杜绝细菌、病毒的流传。为</tspan><tspan x="204.5" dy="17.3">孩子营造一个舒适、卫生的生活环境。</tspan></text></g>
<g id="p4n3"><rect class="nd" x="738" y="3045" width="95" height="30" rx="6"/><text class="l" x="785.5" y="3065">三、家长工作</text></g>
<g id="p4n3b1"><rect class="bx" x="425" y="2488" width="283" height="47.6" rx="6"/><text class="t" x="431.5" y="2508.5"><tspan x="431.5" dy="0">1、经常与家长保持联系，对于生病、休假的</tspan><tspan x="431.5" dy="17.3">幼儿，通过电话，及时了解幼儿在家情况。</tspan></text></g>
<g id="p4n3b2"><rect class="bx" x="425" y="2565" width="283" height="117" rx="6"/><text class="t" x="431.5" y="2585.5"><tspan x="431.5" dy="0">2、每天通过晨间和下午学的接待，以及每周</tspan><tspan x="431.5" dy="17.3">的《家园练习册》与家长交流，沟通，让家长</tspan><tspan x="431.5" dy="17.3">及时的知道幼儿在园的生活与学习情况。教师</tspan><tspan x="431.5" dy="17.3">也能知道幼儿在家的一些情况，针对孩子存在</tspan><tspan x="431.5" dy="17.3">的问题，与家长共同协商，共同配合，让孩子</tspan><tspan x="431.5" dy="17.3">能够更好的成长。</tspan></text></g>
<g id="p4n3b3"><rect class="bx" x="425" y="2711" width="283" height="65" rx="6"/><text class="t" x="431.5" y="2731.5"><tspan x="431.5" dy="0">3、配合幼儿园召开好每次的家长会，使家长</tspan><tspan x="431.5" dy="17.3">了解幼儿在园实行的教学、以及需要家长参与</tspan><tspan x="431.5" dy="17.3">配合孩子做事情的重要性。</tspan></text></g>
<g id="p4n3b4"><rect class="bx" x="425" y="2982" width="283" height="82" rx="6"/><text class="t" x="431.5" y="3002.5"><tspan x="431.5" dy="0">4、成功的组织孩子半日活动的开放，让家长</tspan><tspan x="431.5" dy="17.3">更直接了解孩子在园的学习与生活情况，除休</tspan><tspan x="431.5" dy="17.3">假幼儿外，参加半日活动开放的家长人数为百</tspan><tspan x="431.5" dy="17.3">分之百。</tspan></text></g>
<g id="p4n3b4a"><rect class="bx" x="112" y="2805" width="283" height="65" rx="6"/><text class="t" x="118.5" y="2825.5"><tspan x="118.5" dy="0">在这一年里，在教学、处事还是管理上都有了</tspan><tspan x="118.5" dy="17.3">很大的进步和成长。也很幸运的得到了不少幼</tspan><tspan x="118.5" dy="17.3">儿园外出学习的机会。</tspan></text></g>
<g id="p4n3b4b"><rect class="bx" x="112" y="2900" width="283" height="238" rx="6"/><text class="t" x="118.5" y="2920.5"><tspan x="118.5" dy="0">在12月24——25日，参加了《北京爱德志业</tspan><tspan x="118.5" dy="17.3">幼教联盟会》的培训，他们请来了张心萌老师</tspan><tspan x="118.5" dy="17.3">专门为我们培训，整个培训过程中，大家都很</tspan><tspan x="118.5" dy="17.3">认真投入，主要是她讲的太精彩了，教你如何</tspan><tspan x="118.5" dy="17.3">分析每个人的不同性格、从而分辨他是属于什</tspan><tspan x="118.5" dy="17.3">么类别，应该运用什么样的共同方法与策略，</tspan><tspan x="118.5" dy="17.3">从而有效沟通，实用性很大。人生在世无处不</tspan><tspan x="118.5" dy="17.3">需要沟通，充分重视沟通的价值，全面掌握沟</tspan><tspan x="118.5" dy="17.3">通的技巧；有效运用沟通的手段，学会借助沟</tspan><tspan x="118.5" dy="17.3">通的力量。幸福生活需要沟通，高效工作依靠</tspan><tspan x="118.5" dy="17.3">沟通，成功事业源于沟通。有效沟通，可以让</tspan><tspan x="118.5" dy="17.3">你洞悉他人；有效沟通，可以帮你和谐人际关</tspan><tspan x="118.5" dy="17.3">系；有效沟通，可以助你掌控全局。</tspan></text></g>
<g id="p4n3b4c"><rect class="bx" x="112" y="3167" width="283" height="82" rx="6"/><text class="t" x="118.5" y="3187.5"><tspan x="118.5" dy="0">在上半年参加了《蓝丝带教师心灵成长》2天</tspan><tspan x="118.5" dy="17.3">1夜的培训，谁然已经过了大半年了，但如今</tspan><tspan x="118.5" dy="17.3">我依然记忆犹新。在这个培训，主要以游戏为</tspan><tspan x="118.5" dy="17.3">主，有《沟通》《红黑》《父母亲》的游戏。</tspan></text></g>
<g id="p4n3b5"><rect class="bx" x="425" y="3279" width="283" height="65" rx="6"/><text class="t" x="431.5" y="3299.5"><tspan x="431.5" dy="0">1、"沟通"游戏，使我体验到了聆听的重要性</tspan><tspan x="431.5" dy="17.3">，使我体验到了"打开心扉""坦诚面对"、"走</tspan><tspan x="431.5" dy="17.3">出自己"的重要性。</tspan></text></g>
<g id="p4n3b6"><rect class="bx" x="425" y="3373" width="283" height="99.5" rx="6"/><text class="t" x="431.5" y="3393.5"><tspan x="431.5" dy="0">2、"红黑"游戏，让我更加懂得宽容并珍惜身</tspan><tspan x="431.5" dy="17.3">边的每一位亲人和朋友，给别人出路就是给自</tspan><tspan x="431.5" dy="17.3">己出路。在人生的游戏中，我要有为别人出黑</tspan><tspan x="431.5" dy="17.3">牌的心态。因为，很多事，很多人，当你想通</tspan><tspan x="431.5" dy="17.3">的时候，很遗憾，"时间已到，游戏结束"。</tspan></text></g>
<g id="p4n3b7"><rect class="bx" x="425" y="3528" width="283" height="169" rx="6"/><text class="t" x="431.5" y="3548.5"><tspan x="431.5" dy="0">3、"父母亲"的游戏，让我回味了从呱呱坠地</tspan><tspan x="431.5" dy="17.3">到上学、工作、有了家庭和孩子的过程中，爸</tspan><tspan x="431.5" dy="17.3">爸妈妈还一直在为我做些什么，她们为我的一</tspan><tspan x="431.5" dy="17.3">生付出了多少心血，使我体验到了将来有一天</tspan><tspan x="431.5" dy="17.3">爸妈会离开我的场面，感受到了那种深深的痛</tspan><tspan x="431.5" dy="17.3">苦与悲伤。所以，这个游戏更加提醒了我，在</tspan><tspan x="431.5" dy="17.3">有限的时间里，有空多回去看看，多为爸妈做</tspan><tspan x="431.5" dy="17.3">些事。有句话说"人的一生，什么事都可以等</tspan><tspan x="431.5" dy="17.3">，唯独一件事不能，那就是‘孝敬"。</tspan></text></g>
<g id="p4n3b7a"><rect class="bx" x="112" y="3502" width="283" height="99.5" rx="6"/><text class="t" x="118.5" y="3522.5"><tspan x="118.5" dy="0">通过今天的培训，我更看到了当今企事业文化</tspan><tspan x="118.5" dy="17.3">的改革有多厉害，体会到了无论哪个企业、哪</tspan><tspan x="118.5" dy="17.3">个单位，做任何事情，对"标准化"、"程序化"</tspan><tspan x="118.5" dy="17.3">的要求又是多么的严格。"严于律己"，如果做</tspan><tspan x="118.5" dy="17.3">不到，你迟早要被这个社会所淘汰。</tspan></text></g>
<g id="p4n3b7b"><rect class="bx" x="112" y="3631" width="283" height="82" rx="6"/><text class="t" x="118.5" y="3651.5"><tspan x="118.5" dy="0">我之所以能成长的那么快，离不开幼儿园对我</tspan><tspan x="118.5" dy="17.3">的支持，，和园长对我的信任，给我成长学习</tspan><tspan x="118.5" dy="17.3">的机会，才让我有成长的机会，在这里我要对</tspan><tspan x="118.5" dy="17.3">幼儿园以及园长由衷的说一声："谢谢"！</tspan></text></g>

<g id="watermarks">
<text class="wm" transform="translate(356,669) rotate(-29)">树图 shutu.cn</text>
<text class="wm" transform="translate(1631,669) rotate(-29)">树图 shutu.cn</text>
<text class="wm" transform="translate(356,1684) rotate(-29)">树图 shutu.cn</text>
<text class="wm" transform="translate(1631,1684) rotate(-29)">树图 shutu.cn</text>
<text class="wm" transform="translate(356,2694) rotate(-29)">树图 shutu.cn</text>
<text class="wm" transform="translate(1631,2694) rotate(-29)">树图 shutu.cn</text>
<text class="wm" transform="translate(356,3694) rotate(-29)">树图 shutu.cn</text>
<text class="wm" transform="translate(1631,3694) rotate(-29)">树图 shutu.cn</text>
</g>
</svg>
